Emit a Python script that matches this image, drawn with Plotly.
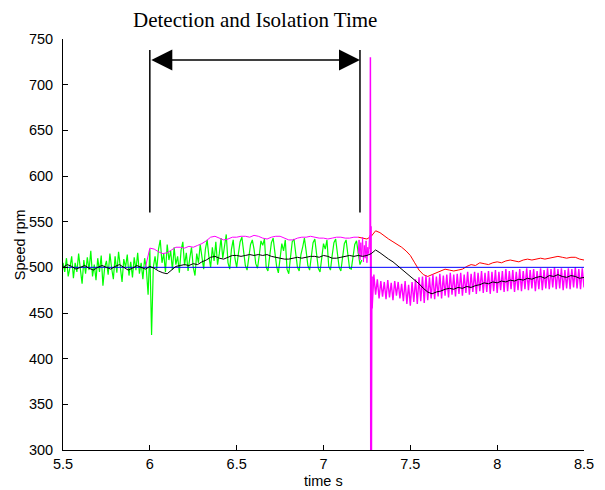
import plotly.graph_objects as go

# ---------------- data ----------------
x_ticks = [5.5, 6, 6.5, 7, 7.5, 8, 8.5]
x_tick_labels = ["5.5", "6", "6.5", "7", "7.5", "8", "8.5"]
y_ticks = [300, 350, 400, 450, 500, 550, 600, 650, 700, 750]
y_tick_labels = [str(v) for v in y_ticks]

# reference speed (blue)
ref_t = [5.5, 8.5]
ref_speed = [500, 500]

# measured speed, green, sampled every 0.01 s from 5.50 s
green_t0, green_dt = 5.5, 0.01
green_speed = [
    505, 495, 510, 490, 500, 512, 488, 505, 495, 515,
    498, 482, 508, 493, 511, 497, 518, 490, 503, 486,
    510, 495, 513, 480, 500, 507, 492, 515, 499, 487,
    512, 494, 517, 496, 484, 509, 500, 514, 491, 506,
    489, 511, 497, 516, 493, 505, 487, 510, 498, 470,
    520, 426,
    500, 512, 498, 520, 530, 505, 515, 495, 525, 508,
    518, 497, 522, 503, 512, 494, 519, 528, 502, 516,
    496, 510, 522, 500, 491, 515, 505, 525, 508, 498,
    520, 530, 512, 500, 522, 507, 528, 503, 515, 532,
    510, 525, 536, 505, 498, 520, 530, 510,
    500, 515, 528, 533, 518, 502,
    497, 510, 525, 530, 520, 504,
    499, 513, 529, 524, 531, 500,
    496, 512, 527, 532, 517, 501,
    494, 509, 526, 518, 530, 498,
    493, 511, 528, 531, 516, 500,
    496, 514, 522, 532, 518, 502,
    497, 512, 527, 531, 515, 499,
    495, 510, 526, 520, 530, 501,
    497, 513, 527, 531, 517, 500,
    496, 511, 526, 530, 515, 499,
    498, 512, 525, 529, 514, 503, 508,
]

# estimated speed, black, every 0.025 s from 5.5 s
black_t0, black_dt = 5.5, 0.025
black_speed = [
    500, 503, 501, 498, 500, 502, 499, 497, 500, 502,
    500, 498, 501, 503, 500, 497, 499, 502, 500, 498,
    501, 499, 496, 494, 493, 497, 501, 502, 503, 502,
    504, 503, 506, 508, 511, 512, 510, 509, 511, 513, 513,
    512, 513, 514, 513, 514, 513, 514, 512, 511, 510,
    509, 509, 510, 511, 510, 511, 512, 512, 511, 513,
    512, 510, 510, 511, 512, 513, 512, 513, 512, 513,
    515, 519, 516, 512, 509, 506, 502, 498, 494, 490,
    487, 482, 477, 473, 471, 473, 474, 476, 477, 476,
    478, 477, 479, 478, 480, 481, 483, 482, 484, 483,
    485, 484, 486, 485, 487, 486, 488, 487, 489, 490,
    488, 491, 490, 492, 490, 489, 491, 490, 488, 489,
]

# red trace, every 0.025 s from 7.2 s
red_t0, red_dt = 7.2, 0.025
red_speed = [
    533, 532, 531, 534, 540, 538, 534, 531, 528, 525,
    522, 518, 513, 505, 497, 492, 490, 492, 494, 496,
    498, 497, 496, 497, 498, 501, 503, 502, 505, 504,
    503, 505, 506, 505, 507, 508, 507, 506, 508, 509,
    508, 509, 510, 509, 510, 511, 512, 511, 510, 511,
    511, 509, 508,
]

# magenta trace: smooth part every 0.025 s from 5.975 s
mag_smooth_t0, mag_smooth_dt = 5.975, 0.025
mag_smooth = [
    500,
    521, 520, 517, 515, 516, 519, 522, 522, 521, 523,
    522, 524, 526, 529, 533, 534, 532, 530, 531, 533,
    533, 534, 534, 533, 535, 534, 532, 531, 533, 534,
    534, 532, 530, 530, 532, 533, 533, 534, 533, 532,
    532, 531, 532, 533, 533, 532, 532, 533, 533,
]
# magenta noisy part before the spike, every 0.005 s from 7.2 s
mag_pre_t0, mag_pre_dt = 7.2, 0.005
mag_pre = [515, 530, 508, 527, 512, 533, 506, 524, 510, 529, 505, 522, 515, 535]
# the spike
mag_spike_t = [7.268, 7.270, 7.272, 7.274, 7.276, 7.278, 7.280]
mag_spike = [520, 730, 290, 545, 290, 455, 490]
# magenta noisy band after the spike, every 0.01 s from 7.28 s
mag_post_t0, mag_post_dt = 7.28, 0.01
mag_post = [
    455, 492, 470, 487, 466, 485, 468, 484, 465, 486,
    467, 483, 464, 485, 469, 484, 466, 482, 463, 485,
    460, 481, 458, 484, 462, 487, 460, 489, 463, 490,
    461, 491, 464, 489, 466, 492, 465, 490, 468, 493,
    466, 491, 469, 492, 467, 494, 470, 492, 468, 493,
    471, 494, 469, 492, 472, 495, 470, 493, 473, 495,
    471, 494, 474, 496, 472, 494, 473, 496, 471, 495,
    474, 497, 472, 495, 475, 496, 473, 498, 474, 496,
    476, 497, 473, 495, 475, 498, 474, 496, 476, 499,
    475, 497, 477, 498, 474, 496, 476, 499, 475, 497,
    477, 499, 476, 498, 478, 500, 476, 498, 477, 499,
    475, 497, 477, 499, 476, 498, 478, 500, 477, 498,
    476, 499, 478,
]

# annotation of the detection interval
detect_start, detect_end = 6.0, 7.21
marker_low, marker_high, arrow_level = 560, 738, 727
title_text = "Detection and Isolation Time"
x_title_text = "time s"
y_title_text = "Speed rpm"

# ---------------- figure ----------------
fig = go.Figure()
lw = 1
fig.add_trace(go.Scatter(x0=green_t0, dx=green_dt, y=green_speed, mode="lines",
                         line=dict(color="#00ff00", width=1.2)))
fig.add_trace(go.Scatter(x0=red_t0, dx=red_dt, y=red_speed, mode="lines",
                         line=dict(color="#ff0000", width=lw)))
fig.add_trace(go.Scatter(x0=mag_smooth_t0, dx=mag_smooth_dt, y=mag_smooth, mode="lines",
                         line=dict(color="#ff00ff", width=lw)))
fig.add_trace(go.Scatter(x0=mag_pre_t0, dx=mag_pre_dt, y=mag_pre, mode="lines",
                         line=dict(color="#ff00ff", width=lw)))
fig.add_trace(go.Scatter(x=mag_spike_t, y=mag_spike, mode="lines",
                         line=dict(color="#ff00ff", width=1.5)))
fig.add_trace(go.Scatter(x0=mag_post_t0, dx=mag_post_dt, y=mag_post, mode="lines",
                         line=dict(color="#ff00ff", width=1.4)))
fig.add_trace(go.Scatter(x=ref_t, y=ref_speed, mode="lines",
                         line=dict(color="#0000ff", width=lw)))
fig.add_trace(go.Scatter(x0=black_t0, dx=black_dt, y=black_speed, mode="lines",
                         line=dict(color="#000000", width=lw)))

# vertical marker lines
for xv in (detect_start, detect_end):
    fig.add_shape(type="line", xref="x", yref="y", x0=xv, x1=xv,
                  y0=marker_low, y1=marker_high,
                  line=dict(color="black", width=1.5))

# double-headed arrow
fig.add_annotation(x=detect_end, y=arrow_level, ax=detect_start, ay=arrow_level,
                   xref="x", yref="y", axref="x", ayref="y", text="",
                   showarrow=True, arrowside="end+start",
                   arrowhead=2, startarrowhead=2,
                   arrowsize=2.8, startarrowsize=2.8,
                   arrowwidth=1.5, arrowcolor="black")

fig.add_annotation(x=(detect_start + detect_end) / 2, y=1.046, xref="x", yref="paper",
                   text=title_text, showarrow=False, xanchor="center", yanchor="middle",
                   font=dict(family="Liberation Serif, Times New Roman, serif",
                             size=21, color="black"))

axis_font = dict(family="Liberation Sans, Arial, sans-serif", size=14.5, color="black")

# axis titles as annotations for exact placement
fig.add_annotation(x=0.5, y=-0.075, xref="paper", yref="paper", text=x_title_text,
                   showarrow=False, xanchor="center", yanchor="middle", font=axis_font)
fig.add_annotation(x=-0.083, y=0.5, xref="paper", yref="paper", text=y_title_text,
                   showarrow=False, xanchor="center", yanchor="middle", textangle=-90,
                   font=axis_font)

# the page body has an 8 px margin, so the figure is sized and offset for it
fig.update_layout(
    width=597, height=482,
    margin=dict(l=55, r=21, t=31, b=40),
    paper_bgcolor="white", plot_bgcolor="white",
    showlegend=False,
    font=axis_font,
)
fig.update_xaxes(range=[5.5, 8.5], tickvals=x_ticks, ticktext=x_tick_labels,
                 ticks="inside", ticklen=5, tickcolor="black",
                 showline=True, linecolor="black", linewidth=1,
                 showgrid=False, zeroline=False, automargin=False,
                 tickfont=axis_font, ticklabelstandoff=1)
fig.update_yaxes(range=[300, 750], tickvals=y_ticks, ticktext=y_tick_labels,
                 ticks="inside", ticklen=5, tickcolor="black",
                 showline=True, linecolor="black", linewidth=1,
                 showgrid=False, zeroline=False, automargin=False,
                 tickfont=axis_font, ticklabelstandoff=6)

fig.write_html("out.html")
